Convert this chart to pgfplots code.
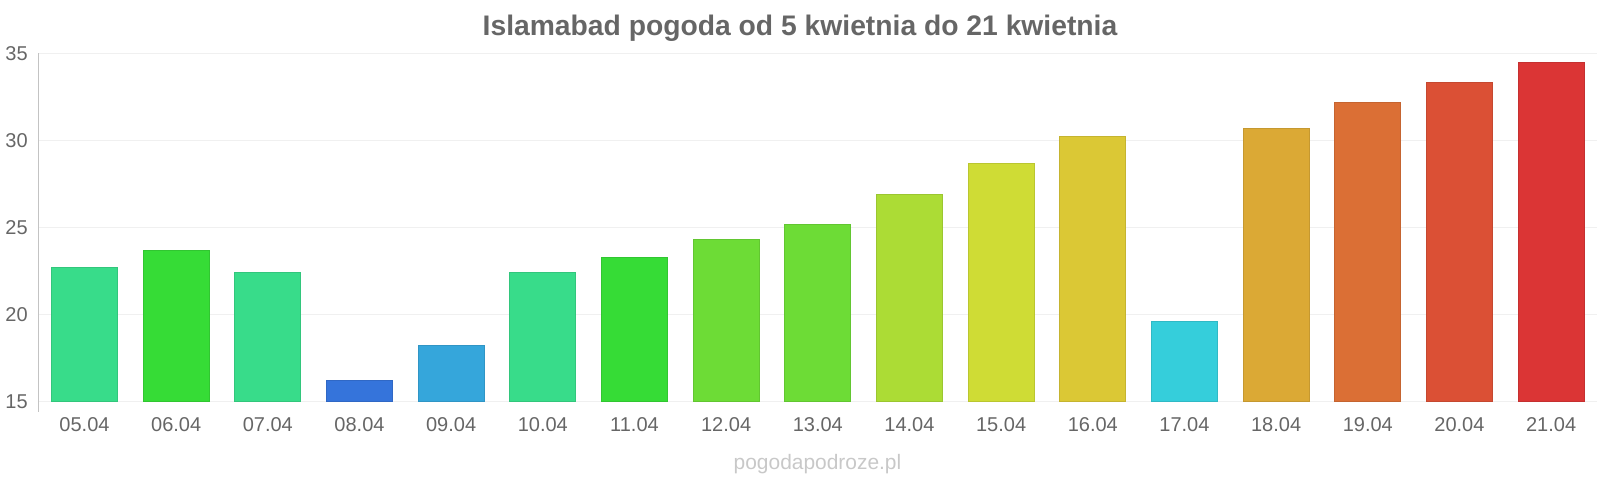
\documentclass[border=0pt]{standalone}
\usepackage{pgfplots}
\pgfplotsset{compat=1.18}
\usepackage{fontspec}
\setmainfont{Liberation Sans}
\definecolor{txt}{RGB}{102,102,102}
\definecolor{wm}{RGB}{200,200,200}
\definecolor{gridc}{RGB}{240,240,240}
\definecolor{axc}{RGB}{195,195,195}
\definecolor{cA}{RGB}{56,220,138}
\definecolor{cB}{RGB}{54,220,54}
\definecolor{cC}{RGB}{53,116,219}
\definecolor{cD}{RGB}{53,166,219}
\definecolor{cE}{RGB}{109,220,54}
\definecolor{cF}{RGB}{172,220,53}
\definecolor{cG}{RGB}{207,220,53}
\definecolor{cH}{RGB}{219,200,53}
\definecolor{cI}{RGB}{53,206,219}
\definecolor{cJ}{RGB}{219,169,53}
\definecolor{cK}{RGB}{219,111,53}
\definecolor{cL}{RGB}{219,80,53}
\definecolor{cM}{RGB}{219,53,53}
\begin{document}
\begin{tikzpicture}[x=0.75pt,y=0.75pt]
\useasboundingbox (0,0) rectangle (1600,480);
\node[font=\fontsize{21.2}{24}\selectfont\bfseries, text=txt] at (800,452) {Islamabad pogoda od 5 kwietnia do 21 kwietnia};
\node[font=\fontsize{15.7}{18}\selectfont, text=wm] at (817.5,15.5) {pogodapodroze.pl};
\begin{axis}[
  at={(29.0pt,58.7pt)}, anchor=south west,
  scale only axis, width=1168.7pt, height=261.3pt,
  xmin=-0.5, xmax=16.5, ymin=15, ymax=35,
  ytick={15,20,25,30,35},
  xtick={0,...,16},
  xticklabels={05.04,06.04,07.04,08.04,09.04,10.04,11.04,12.04,13.04,14.04,15.04,16.04,17.04,18.04,19.04,20.04,21.04},
  axis x line*=bottom, axis y line*=left,
  x axis line style={draw=none},
  y axis line style={draw=axc, line width=0.75pt, shorten <=-7.5pt},
  major tick length=0pt,
  ymajorgrids, grid style={draw=gridc, line width=0.75pt},
  /pgf/number format/assume math mode=true,
  tick label style={font=\fontsize{15}{18}\selectfont, text=txt},
  xticklabel style={anchor=north, inner sep=0pt, yshift=-12pt},
  yticklabel style={anchor=east, inner sep=0pt, xshift=-8pt},
  ybar, bar width=49.5pt,
  every axis plot/.append style={bar shift=0pt, line width=0.75pt},
]
\addplot[fill=cA, draw=cA!90!black] coordinates {(0,22.7)};
\addplot[fill=cB, draw=cB!90!black] coordinates {(1,23.7)};
\addplot[fill=cA, draw=cA!90!black] coordinates {(2,22.4)};
\addplot[fill=cC, draw=cC!90!black] coordinates {(3,16.2)};
\addplot[fill=cD, draw=cD!90!black] coordinates {(4,18.2)};
\addplot[fill=cA, draw=cA!90!black] coordinates {(5,22.4)};
\addplot[fill=cB, draw=cB!90!black] coordinates {(6,23.3)};
\addplot[fill=cE, draw=cE!90!black] coordinates {(7,24.3)};
\addplot[fill=cE, draw=cE!90!black] coordinates {(8,25.2)};
\addplot[fill=cF, draw=cF!90!black] coordinates {(9,26.9)};
\addplot[fill=cG, draw=cG!90!black] coordinates {(10,28.7)};
\addplot[fill=cH, draw=cH!90!black] coordinates {(11,30.2)};
\addplot[fill=cI, draw=cI!90!black] coordinates {(12,19.6)};
\addplot[fill=cJ, draw=cJ!90!black] coordinates {(13,30.7)};
\addplot[fill=cK, draw=cK!90!black] coordinates {(14,32.2)};
\addplot[fill=cL, draw=cL!90!black] coordinates {(15,33.3)};
\addplot[fill=cM, draw=cM!90!black] coordinates {(16,34.5)};
\end{axis}
\end{tikzpicture}
\end{document}
